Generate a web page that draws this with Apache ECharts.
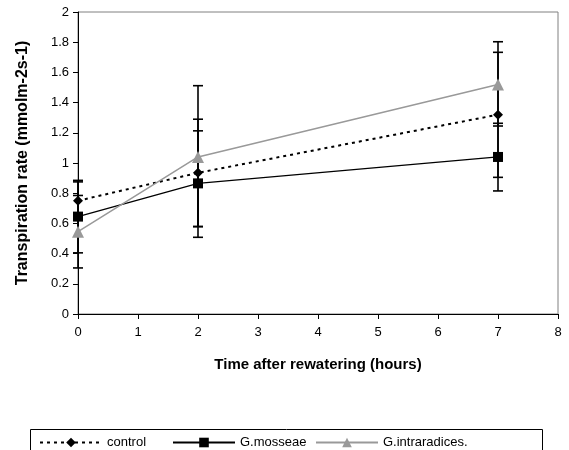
<!DOCTYPE html>
<html lang="en">
<head>
  <meta charset="UTF-8">
  <title>transpiration</title>
  <style>
    html, body { margin: 0; padding: 0; background: #fff; }
    #chart { width: 569px; height: 450px; }
  </style>
</head>
<body>
<div id="chart"></div>
<script src="https://cdn.jsdelivr.net/npm/echarts@6/dist/echarts.min.js"></script>
<script>
  // hours after rewatering
  const hours = [0, 2, 7];
  const yTicks = [0, 0.2, 0.4, 0.6, 0.8, 1, 1.2, 1.4, 1.6, 1.8, 2];

  // means and error bar ends
  const controlMean = [0.75, 0.935, 1.32];
  const controlLow = [0.625, 0.58, 0.905];
  const controlHigh = [0.875, 1.29, 1.733];

  const mosseaeMean = [0.645, 0.865, 1.04];
  const mosseaeLow = [0.405, 0.508, 0.815];
  const mosseaeHigh = [0.885, 1.213, 1.263];

  const intraMean = [0.545, 1.04, 1.52];
  const intraLow = [0.305, 0.578, 1.245];
  const intraHigh = [0.785, 1.512, 1.803];

  const FONT = '"Liberation Sans", Arial, sans-serif';

  function pairs(xs, ys){
    return xs.map((x, i) => [x, ys[i]]);
  }
  function errData(xs, lo, hi){
    return xs.map((x, i) => [x, lo[i], hi[i]]);
  }

  // vertical error bar with caps
  function errorBar(params, api){
    const x = api.value(0);
    const lo = api.coord([x, api.value(1)]);
    const hi = api.coord([x, api.value(2)]);
    const w = 5;
    const st = { stroke: '#000', lineWidth: 1.6 };
    return {
      type: 'group',
      children: [
        { type: 'line', shape: { x1: lo[0], y1: lo[1], x2: hi[0], y2: hi[1] }, style: st },
        { type: 'line', shape: { x1: lo[0] - w, y1: lo[1], x2: lo[0] + w, y2: lo[1] }, style: st },
        { type: 'line', shape: { x1: hi[0] - w, y1: hi[1], x2: hi[0] + w, y2: hi[1] }, style: st }
      ]
    };
  }

  const legendText = { fontSize: 13, color: '#000', fontFamily: FONT };
  function legendAt(left, name){
    return {
      left: left, top: 431,
      itemWidth: 62, itemHeight: 12,
      textStyle: legendText,
      data: [name]
    };
  }

  const chart = echarts.init(document.getElementById('chart'));

  const option = {
    animation: false,
    textStyle: { fontFamily: FONT },
    grid: {
      left: 78, right: 11, top: 12, bottom: 136,
      show: true, borderColor: '#808080', borderWidth: 1
    },
    xAxis: {
      type: 'value', min: 0, max: 8, interval: 1,
      name: 'Time after rewatering (hours)',
      nameLocation: 'middle', nameGap: 43,
      nameTextStyle: { fontSize: 15, fontWeight: 'bold', color: '#000', fontFamily: FONT },
      axisLine: { lineStyle: { color: '#000', width: 1 } },
      axisTick: { show: true, length: 5, lineStyle: { color: '#000' } },
      axisLabel: { color: '#000', fontSize: 13, margin: 12, fontFamily: FONT },
      splitLine: { show: false }
    },
    yAxis: {
      type: 'value', min: 0, max: 2, interval: 0.2,
      name: 'Transpiration rate (mmolm-2s-1)',
      nameLocation: 'middle', nameGap: 47,
      nameTextStyle: { fontSize: 16, fontWeight: 'bold', color: '#000', fontFamily: FONT },
      axisLine: { show: true, lineStyle: { color: '#000', width: 1 } },
      axisTick: { show: true, length: 5, lineStyle: { color: '#000' } },
      axisLabel: {
        color: '#000', fontSize: 13, margin: 9, fontFamily: FONT,
        formatter: v => {
          const t = yTicks.find(k => Math.abs(k - v) < 1e-6);
          return t === undefined ? '' : String(t);
        }
      },
      splitLine: { show: false }
    },
    legend: [
      legendAt(34, 'control'),
      legendAt(167, 'G.mosseae'),
      legendAt(310, 'G.intraradices.')
    ],
    graphic: [
      {
        type: 'rect', left: 28, top: 427,
        shape: { width: 512, height: 40 },
        style: { fill: 'none', stroke: '#000', lineWidth: 1 },
        silent: true
      }
    ],
    series: [
      {
        type: 'custom', name: 'err-mosseae', renderItem: errorBar,
        data: errData(hours, mosseaeLow, mosseaeHigh), z: 1
      },
      {
        type: 'custom', name: 'err-control', renderItem: errorBar,
        data: errData(hours, controlLow, controlHigh), z: 1
      },
      {
        type: 'custom', name: 'err-intra', renderItem: errorBar,
        data: errData(hours, intraLow, intraHigh), z: 1
      },
      {
        name: 'control', type: 'line', data: pairs(hours, controlMean),
        symbol: 'diamond', symbolSize: 10,
        lineStyle: { color: '#000', width: 2, type: [3, 4] },
        itemStyle: { color: '#000' }, z: 3
      },
      {
        name: 'G.mosseae', type: 'line', data: pairs(hours, mosseaeMean),
        symbol: 'rect', symbolSize: 10,
        lineStyle: { color: '#000', width: 1.3 },
        itemStyle: { color: '#000' }, z: 3
      },
      {
        name: 'G.intraradices.', type: 'line', data: pairs(hours, intraMean),
        symbol: 'triangle', symbolSize: 12,
        lineStyle: { color: '#999', width: 1.5 },
        itemStyle: { color: '#999' }, z: 4
      }
    ]
  };

  chart.setOption(option);
</script>
</body>
</html>
